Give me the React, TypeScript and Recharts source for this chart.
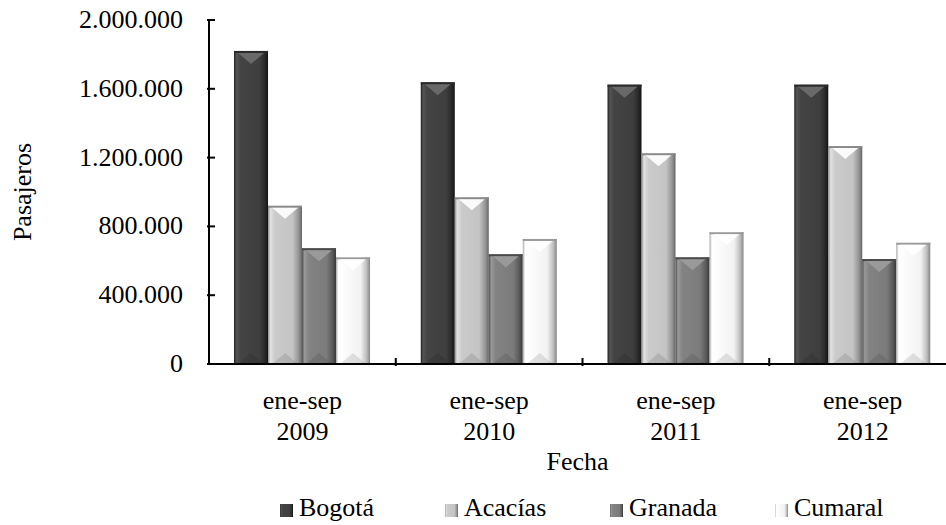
import React from 'react';
import { BarChart, Bar, XAxis, YAxis, Legend } from 'recharts';

// datos de pasajeros (ene-sep de cada año)
const categories = ['ene-sep 2009', 'ene-sep 2010', 'ene-sep 2011', 'ene-sep 2012'];
const bogota = [1820000, 1638000, 1624000, 1624000];
const acacias = [920000, 969000, 1225000, 1267000];
const granada = [673000, 638000, 620000, 610000];
const cumaral = [620000, 727000, 766000, 705000];
const yTicks = [0, 400000, 800000, 1200000, 1600000, 2000000];

const seriesNames = ['Bogotá', 'Acacías', 'Granada', 'Cumaral'];
const seriesKeys = ['bogota', 'acacias', 'granada', 'cumaral'];

const data = categories.map((c, i) => ({
  cat: c,
  bogota: bogota[i],
  acacias: acacias[i],
  granada: granada[i],
  cumaral: cumaral[i],
}));

const FONT = '"Liberation Serif", serif';

const styles: Record<string, { stops: [number, string][]; cap: string; capEdge: string }> = {
  bogota: {
    stops: [[0, '#1c1c1c'], [0.07, '#555'], [0.18, '#444'], [0.75, '#3e3e3e'], [0.9, '#2a2a2a'], [1, '#141414']],
    cap: '#6e6e6e', capEdge: '#2a2a2a',
  },
  acacias: {
    stops: [[0, '#8a8a8a'], [0.07, '#e2e2e2'], [0.2, '#cbcbcb'], [0.72, '#c4c4c4'], [0.9, '#959595'], [1, '#666']],
    cap: '#ffffff', capEdge: '#8a8a8a',
  },
  granada: {
    stops: [[0, '#4a4a4a'], [0.07, '#999'], [0.2, '#838383'], [0.72, '#7b7b7b'], [0.9, '#595959'], [1, '#383838']],
    cap: '#9c9c9c', capEdge: '#4a4a4a',
  },
  cumaral: {
    stops: [[0, '#a8a8a8'], [0.07, '#ffffff'], [0.2, '#fdfdfd'], [0.72, '#f2f2f2'], [0.9, '#bdbdbd'], [1, '#858585']],
    cap: '#ffffff', capEdge: '#9a9a9a',
  },
};

const fmt = (v: number) => String(v).replace(/\B(?=(\d{3})+(?!\d))/g, '.');

const BevelBar = (props: any) => {
  const { x, y, width, height, skey } = props;
  if (!height || height <= 0) return null;
  const s = styles[skey];
  const w = width;
  return (
    <g>
      <rect x={x} y={y} width={w} height={height} fill={`url(#g-${skey})`} />
      <rect x={x} y={y} width={w} height={2} fill={s.capEdge} />
      <polygon
        points={`${x + 4},${y + 2} ${x + w - 4},${y + 2} ${x + w / 2},${y + 13}`}
        fill={s.cap}
        opacity={0.9}
      />
      <polygon
        points={`${x + 4},${y + height} ${x + w - 4},${y + height} ${x + w / 2},${y + height - 11}`}
        fill="#000"
        opacity={0.1}
      />
    </g>
  );
};

const YTick = (props: any) => {
  const { x, y, payload } = props;
  return (
    <g>
      <line x1={x} x2={x + 8} y1={y} y2={y} stroke="#000" strokeWidth={2} />
      <text x={x - 24} y={y + 8} textAnchor="end" style={{ fontFamily: FONT }} fontSize={26} fill="#000">
        {fmt(payload.value)}
      </text>
    </g>
  );
};

const XTick = (props: any) => {
  const { x, y, payload } = props;
  const [l1, l2] = String(payload.value).split(' ');
  const half = payload.offset || 93;
  return (
    <g>
      <line x1={x + half} x2={x + half} y1={y} y2={y - 8} stroke="#000" strokeWidth={2} />
      <text x={x} y={y + 43} textAnchor="middle" style={{ fontFamily: FONT }} fontSize={26} fill="#000">{l1}</text>
      <text x={x} y={y + 74} textAnchor="middle" style={{ fontFamily: FONT }} fontSize={26} fill="#000">{l2}</text>
    </g>
  );
};

const legendIcon = (k: string) => {
  const st = styles[k].stops.map(([o, c]) => `${c} ${o * 100}%`).join(', ');
  return `linear-gradient(to right, ${st})`;
};

const LegendContent = () => (
  <div style={{ display: 'flex', paddingLeft: 280, paddingTop: 3, height: 40, fontFamily: FONT, fontSize: 26, lineHeight: '34px', color: '#000' }}>
    {seriesKeys.map((k, i) => (
      <div key={k} style={{ width: 165, display: 'flex', alignItems: 'center' }}>
        <span style={{ display: 'inline-block', width: 13, height: 13, marginRight: 6, marginTop: 4, background: legendIcon(k) }} />
        <span>{seriesNames[i]}</span>
      </div>
    ))}
  </div>
);

export default function App() {
  return (
    <div style={{ position: 'absolute', left: 0, top: 0, width: 946, height: 525, overflow: 'hidden', background: '#fff', fontFamily: FONT }}>
      <svg width={0} height={0} style={{ position: 'absolute' }}>
        <defs>
          {seriesKeys.map((k) => (
            <linearGradient key={k} id={`g-${k}`} x1="0" y1="0" x2="1" y2="0">
              {styles[k].stops.map(([o, c], j) => (
                <stop key={j} offset={o} stopColor={c} />
              ))}
            </linearGradient>
          ))}
        </defs>
      </svg>
      <BarChart
        width={956}
        height={525}
        data={data}
        margin={{ top: 20, right: 0, left: 0, bottom: 0 }}
        barCategoryGap="13.4%"
        barGap={0}
        style={{ fontFamily: FONT }}
      >
        <XAxis
          dataKey="cat"
          height={121}
          interval={0}
          tickLine={false}
          tickSize={0}
          tick={<XTick />}
          axisLine={{ stroke: '#000', strokeWidth: 2 }}
          label={{ value: 'Fecha', position: 'insideBottom', offset: 15, fill: '#000', fontSize: 26, dx: -5, style: { fontFamily: FONT } }}
        />
        <YAxis
          width={209}
          domain={[0, 2000000]}
          ticks={yTicks}
          interval={0}
          tickLine={false}
          tickSize={0}
          tick={<YTick />}
          axisLine={{ stroke: '#000', strokeWidth: 2 }}
          label={{
            content: (p: any) => {
              const vb = p.viewBox || { x: 0, y: 20, height: 344 };
              const cx = vb.x + 31;
              const cy = vb.y + vb.height / 2;
              return (
                <text x={cx} y={cy} transform={`rotate(-90, ${cx}, ${cy})`} textAnchor="middle" style={{ fontFamily: FONT }} fontSize={26} fill="#000">
                  Pasajeros
                </text>
              );
            },
          }}
        />
        <Legend verticalAlign="bottom" height={40} wrapperStyle={{ left: 0, width: 956 }} content={<LegendContent />} />
        {seriesKeys.map((k, i) => (
          <Bar
            key={k}
            dataKey={k}
            name={seriesNames[i]}
            fill={styles[k].stops[2][1]}
            isAnimationActive={false}
            shape={(p: any) => <BevelBar {...p} skey={k} />}
          />
        ))}
      </BarChart>
    </div>
  );
}
